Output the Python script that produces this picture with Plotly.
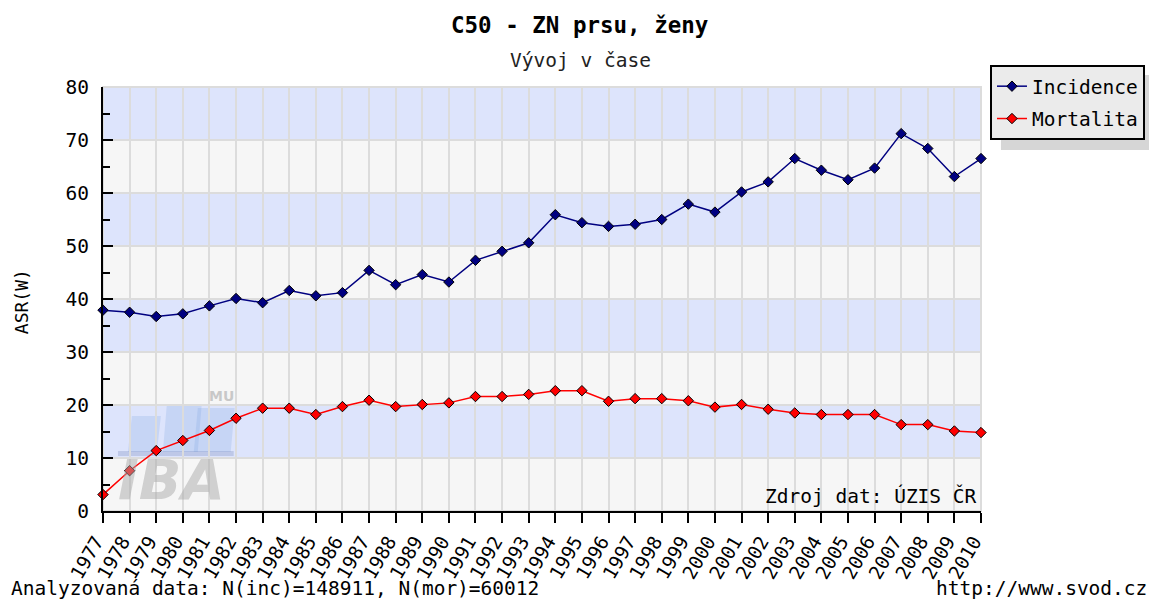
import plotly.graph_objects as go

years = list(range(1977, 2011))
year_labels = [str(y) for y in years]
incidence = [37.9, 37.5, 36.7, 37.2, 38.7, 40.1, 39.3, 41.6, 40.6, 41.2,
             45.4, 42.7, 44.6, 43.2, 47.3, 49.0, 50.6, 55.9, 54.4, 53.7,
             54.1, 55.0, 57.9, 56.4, 60.2, 62.1, 66.5, 64.3, 62.5, 64.7,
             71.2, 68.4, 63.1, 66.5]
mortalita = [3.1, 7.6, 11.4, 13.3, 15.2, 17.5, 19.4, 19.4, 18.2, 19.7,
             20.9, 19.7, 20.1, 20.4, 21.6, 21.6, 22.0, 22.7, 22.7, 20.7,
             21.2, 21.2, 20.8, 19.6, 20.1, 19.2, 18.5, 18.2, 18.2, 18.2,
             16.3, 16.3, 15.1, 14.8]
y_ticks = [0, 10, 20, 30, 40, 50, 60, 70, 80]
band_ranges = [(10, 20), (30, 40), (50, 60), (70, 80)]

FONT = "DejaVu Sans Mono"
FS = 19.5

# page body has an 8px margin; lay out in window pixels, then shift
OFF = 8
WIN_W, WIN_H = 1157, 602
W, H = WIN_W - OFF, WIN_H - OFF
L, R, T, B = 103, 983, 87, 511  # plot area in window pixels


def px(x):
    return (x - L) / (R - L)


def py(y):
    return (B - y) / (B - T)


fig = go.Figure()
fig.add_trace(go.Scatter(
    x=years, y=incidence, name="Incidence", mode="lines+markers",
    legendgroup="inc",
    line=dict(color="#000080", width=1.5),
    marker=dict(symbol="diamond", size=8, color="#000080",
                line=dict(color="#000000", width=1)),
    cliponaxis=False))
fig.add_trace(go.Scatter(
    x=years, y=mortalita, name="Mortalita", mode="lines+markers",
    legendgroup="mor",
    line=dict(color="#ff0000", width=1.5),
    marker=dict(symbol="diamond", size=8, color="#ff0000",
                line=dict(color="#000000", width=1)),
    cliponaxis=False))

shapes = []
for lo, hi in band_ranges:
    shapes.append(dict(type="rect", xref="paper", yref="y", x0=0, x1=1,
                       y0=lo, y1=hi, fillcolor="#dde4fc", line_width=0,
                       layer="below"))
shapes.append(dict(type="rect", xref="paper", yref="paper", x0=0, x1=1,
                   y0=0, y1=1, line=dict(color="#dcdcdc", width=2),
                   fillcolor="rgba(0,0,0,0)", layer="below"))
# watermark logo (decorative)
logo_rects = [(128, 157, 416, 452), (163, 198, 404, 452), (194, 231, 408, 452)]
for x0, x1, y0, y1 in logo_rects:
    shapes.append(dict(type="path", xref="paper", yref="paper",
                       path=f"M {px(x0)},{py(y1)} L {px(x1)},{py(y1)} L {px(x1+4)},{py(y0)} L {px(x0+4)},{py(y0)} Z",
                       fillcolor="rgba(120,160,225,0.22)", line_width=0,
                       layer="between"))
shapes.append(dict(type="rect", xref="paper", yref="paper",
                   x0=px(118), x1=px(234), y0=py(456), y1=py(451),
                   fillcolor="rgba(110,130,180,0.28)", line_width=0,
                   layer="between"))
# legend shadow
shapes.append(dict(type="rect", xref="paper", yref="paper",
                   x0=px(1003), x1=px(1157), y0=py(75), y1=py(150),
                   fillcolor="#d6d6d6", line_width=0, layer="above"))

annotations = [
    dict(text="<b>C50 - ZN prsu, ženy</b>", x=px(581), y=py(25),
         xref="paper", yref="paper", showarrow=False,
         font=dict(family=FONT, size=22.5, color="#000"),
         xanchor="center", yanchor="middle"),
    dict(text="Vývoj v čase", x=px(582), y=py(61),
         xref="paper", yref="paper", showarrow=False,
         font=dict(family=FONT, size=FS, color="#222"),
         xanchor="center", yanchor="middle"),
    dict(text="ASR(W)", x=px(21), y=py(302), textangle=-90,
         xref="paper", yref="paper", showarrow=False,
         font=dict(family=FONT, size=18, color="#000"),
         xanchor="center", yanchor="middle"),
    dict(text="Zdroj dat: ÚZIS ČR", x=px(981), y=py(496),
         xref="paper", yref="paper", showarrow=False,
         font=dict(family=FONT, size=FS, color="#000"),
         xanchor="right", yanchor="middle"),
    dict(text="Analyzovaná data: N(inc)=148911, N(mor)=60012", x=px(9), y=py(WIN_H),
         xref="paper", yref="paper", showarrow=False,
         font=dict(family=FONT, size=FS, color="#000"),
         xanchor="left", yanchor="bottom"),
    dict(text="http://www.svod.cz", x=px(1151), y=py(WIN_H),
         xref="paper", yref="paper", showarrow=False,
         font=dict(family=FONT, size=FS, color="#000"),
         xanchor="right", yanchor="bottom"),
    dict(text="<b><i>IBA</i></b>", x=px(172), y=py(479),
         xref="paper", yref="paper", showarrow=False,
         font=dict(family="DejaVu Sans", size=56, color="rgba(170,170,170,0.5)"),
         xanchor="center", yanchor="middle"),
    dict(text="<b>MU</b>", x=px(222), y=py(396),
         xref="paper", yref="paper", showarrow=False,
         font=dict(family="DejaVu Sans", size=14, color="rgba(170,170,170,0.6)"),
         xanchor="center", yanchor="middle"),
]

fig.update_layout(
    width=W, height=H,
    margin=dict(l=L - OFF, r=W - (R - OFF), t=T - OFF, b=H - (B - OFF)),
    paper_bgcolor="#ffffff", plot_bgcolor="#f6f6f6",
    font=dict(family=FONT, size=FS, color="#000"),
    showlegend=True,
    legend=dict(x=px(992), y=py(65), xanchor="left", yanchor="top",
                bgcolor="#ebebeb", bordercolor="#000000", borderwidth=2,
                font=dict(family=FONT, size=FS, color="#000"),
                itemwidth=30, tracegroupgap=4),
    shapes=shapes, annotations=annotations,
    xaxis=dict(range=[1977, 2010], tickmode="array", tickvals=years,
               ticktext=year_labels, tickangle=-60,
               ticks="outside", ticklen=10, tickwidth=2, tickcolor="#000",
               showline=True, linecolor="#000", linewidth=2,
               showgrid=True, gridcolor="#dcdcdc", gridwidth=2,
               zeroline=False, ticklabelshift=-7,
               tickfont=dict(family=FONT, size=19)),
    yaxis=dict(range=[0, 80], tickmode="array", tickvals=y_ticks,
               ticks="inside", ticklen=10, tickwidth=2, tickcolor="#000",
               showline=True, linecolor="#000", linewidth=2,
               showgrid=True, gridcolor="#dcdcdc", gridwidth=2,
               zeroline=False, ticklabelstandoff=8,
               minor=dict(dtick=5, ticks="inside", ticklen=7, tickwidth=2,
                          tickcolor="#000", showgrid=False),
               tickfont=dict(family=FONT, size=FS)),
)

fig.write_html("out.html")
